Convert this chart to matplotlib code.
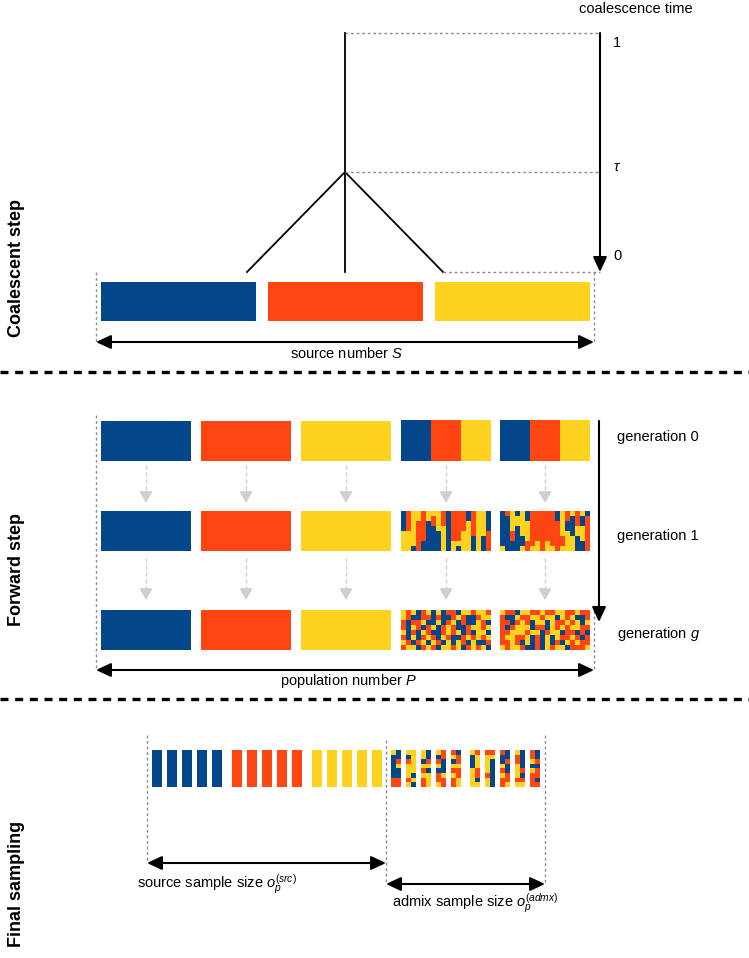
import numpy as np
import matplotlib
matplotlib.use("Agg")
import matplotlib.pyplot as plt
from matplotlib.patches import Rectangle, FancyArrowPatch
from matplotlib.colors import ListedColormap

plt.rcParams['font.family'] = ['Liberation Sans', 'DejaVu Sans']
plt.rcParams['mathtext.fontset'] = 'custom'
plt.rcParams['mathtext.rm'] = 'Liberation Sans'
plt.rcParams['mathtext.it'] = 'Liberation Sans:italic'

# colours of the three sources
src_colors = ["#03468A", "#FF4612", "#FFD220"]
code = {"B": 0, "R": 1, "Y": 2}

section_labels = ["Coalescent step", "Forward step", "Final sampling"]
time_labels = ["1", r"$\tau$", "0"]
gen_labels = ["generation 0", "generation 1", r"generation $g$"]

# admixed population, generation 0: proportions of blue/red/yellow
admix_gen0 = ["BRY", "BRY"]

# admixed populations, generation 1 (columns, top to bottom)
gen1_a = ["BBBBYYYY", "RRRRYYYY", "YYYYYYYB", "YYRRRRRR", "RRRRRRBB", "YYBBBBBB",
          "YRRBBBBB", "YYYYBBBB", "RRRYYYYY", "BBBBBBBB", "RRRRRRYY", "RRRRRRYB",
          "RRRRYYYY", "BBYYYYYY", "RRRRRBBB", "YYYYYYYY", "YYYYYBBB", "BBBBRRRR"]
gen1_b = ["BBBBBBBY", "RBBBBBBB", "YYYYRRBB", "BYYBBBBB", "YYYYYBBY", "BBYYYYRR",
          "RRRRRRRY", "RRRRRRYY", "RRRRRRRR", "RRRRRRYY", "RRRRRRRY", "BBRRRRRR",
          "YYYYYRRY", "RRBBYYYY", "YBBBBYYY", "RRRYYBBB", "YBBYYYBB", "BRRRRRRR"]

# admixed populations, generation g (rows)
geng_a = ["YRYBRYBYBRRBYYRYYR", "YRBBRRBRBBRYRBBRYY", "RBRRYBBYBRYBRBBYRB",
          "RBYRBRYBRYRBBRYYRY", "YBRBYRBBRYRYBRBYYB", "RBYBRYRBYRBBRYRYRY",
          "YRBRYBYRBYBYRBYBBR", "RYYBRYRBYYRYBRYRYB"]
geng_b = ["YRRBYYRRYRRYYRRYRR", "RBBYRRYYRYYBYRYBBR", "RRBRYRBYYBYRRYRYBY",
          "RBRYYYBRRBYRYRYYRR", "RRYYYRYYBRYYBRRBRB", "RYYRRYBRBYBYRRYRBR",
          "RRYRBYBRBYBRBYRYRR", "YRYYRBBRBYRYYBRRRY"]

# final sampling: 5 individuals per source, 10 admixed individuals (rows x 2 cols)
n_src_samples = 5
admix_samples = [
    ["YB", "BB", "BR", "BY", "BB", "BB", "RR", "RR"],
    ["YY", "BY", "RY", "YY", "YY", "YB", "RY", "YB"],
    ["YB", "YB", "BR", "YY", "RB", "YY", "RY", "RY"],
    ["YR", "BR", "RB", "YB", "BB", "RY", "RR", "YR"],
    ["RB", "YR", "BR", "YY", "RR", "YR", "RY", "RY"],
    ["YR", "BY", "BY", "BY", "YR", "YR", "YB", "YY"],
    ["RR", "YY", "YB", "YB", "YB", "RB", "YB", "YB"],
    ["RB", "BB", "BR", "YB", "RB", "YR", "RR", "RY"],
    ["YB", "RB", "RB", "YB", "YR", "YB", "RR", "YY"],
    ["RB", "RB", "YR", "BB", "YR", "RR", "RB", "RR"],
]

cmap = ListedColormap(src_colors)
GRAY = "#8c8c8c"
LIGHT = "#cfcfcf"
FS = 10.5

fig = plt.figure(figsize=(7.49, 9.58), dpi=100)
ax = fig.add_axes([0, 0, 1, 1])
ax.set_xlim(0, 749)
ax.set_ylim(958, 0)
ax.axis("off")


def grid(rows):
    return np.array([[code[c] for c in r] for r in rows])


def mosaic(arr, x0, y0, w, h):
    ax.imshow(arr, cmap=cmap, vmin=0, vmax=2, extent=(x0, x0 + w, y0 + h, y0),
              origin="upper", interpolation="nearest", aspect="auto")


def darrow(x0, y0, x1, y1, style="<|-|>"):
    ax.annotate("", xy=(x1, y1), xytext=(x0, y0),
                arrowprops=dict(arrowstyle=style + ",head_length=0.9,head_width=0.42",
                                color="black", lw=1.5, shrinkA=0, shrinkB=0))


def dotted(xs, ys):
    ax.plot(xs, ys, color=GRAY, lw=1.0, linestyle=(0, (2, 2)))


# ---------------- coalescent step ----------------
bar_x = [101, 268, 435]
for x, c in zip(bar_x, src_colors):
    ax.add_patch(Rectangle((x, 282), 155, 39, color=c, lw=0))

ax.plot([345, 345], [33, 272], color="black", lw=1.3)
ax.plot([247, 345, 443], [272, 172, 272], color="black", lw=1.3)
dotted([345, 600], [33, 33])
dotted([345, 600], [172, 172])
dotted([443, 600], [272, 272])
darrow(600, 33, 600, 272, style="-|>")
ax.text(636, 9, "coalescence time", fontsize=FS, ha="center", va="center")
for lab, y in zip(time_labels, [43, 167, 256]):
    ax.text(613, y, lab, fontsize=FS, ha="left", va="center")

dotted([96, 96], [272, 342])
dotted([594, 594], [272, 342])
darrow(96, 342, 594, 342)
ax.text(347, 353, r"source number $S$", fontsize=FS, ha="center", va="center")

# separators
for y in [372, 699]:
    ax.plot([0, 749], [y, y], color="black", lw=2.4, linestyle=(0, (2.4, 2.0)))

# ---------------- forward step ----------------
blk_x = [101, 201, 301, 401, 500]
row_y = [421, 511, 610]
BW, BH = 90, 40
for y in row_y:
    for x, c in zip(blk_x[:3], src_colors):
        ax.add_patch(Rectangle((x, y), BW, BH, color=c, lw=0))

# generation 0 admixed blocks
for x, pat in zip(blk_x[3:], admix_gen0):
    mosaic(grid([pat]), x, row_y[0], BW, BH)
mosaic(grid(gen1_a).T, blk_x[3], row_y[1], BW, BH)
mosaic(grid(gen1_b).T, blk_x[4], row_y[1], BW, BH)
mosaic(grid(geng_a), blk_x[3], row_y[2], BW, BH)
mosaic(grid(geng_b), blk_x[4], row_y[2], BW, BH)

# gray transition arrows
for x in blk_x:
    xc = x + BW / 2
    for y0, y1 in [(465, 503), (558, 600)]:
        ax.plot([xc, xc], [y0, y1 - 9], color=LIGHT, lw=1.0, linestyle=(0, (3, 2)))
        ax.add_patch(FancyArrowPatch((xc, y1 - 11), (xc, y1),
                                     arrowstyle="-|>,head_length=0.7,head_width=0.4",
                                     mutation_scale=10, color=LIGHT, lw=1.0,
                                     shrinkA=0, shrinkB=0))

darrow(599, 421, 599, 622, style="-|>")
for lab, y in zip(gen_labels, [437, 536, 634]):
    ax.text(617, y, lab, fontsize=FS, ha="left", va="center")

dotted([96, 96], [415, 670])
dotted([594, 594], [605, 670])
darrow(96, 670, 594, 670)
ax.text(348, 681, r"population number $P$", fontsize=FS, ha="center", va="center")

# ---------------- final sampling ----------------
SB_W, SB_Y, SB_H = 10, 750, 37
group_x = [152, 232, 312]
for gx, c in zip(group_x, src_colors):
    for i in range(n_src_samples):
        ax.add_patch(Rectangle((gx + 15 * i, SB_Y), SB_W, SB_H, color=c, lw=0))

adm_x = [391, 406, 421, 436, 451, 470, 485, 500, 515, 530]
for x, rows in zip(adm_x, admix_samples):
    mosaic(grid(rows), x, SB_Y, SB_W, SB_H)

dotted([147, 147], [735, 863])
dotted([386, 386], [740, 884])
dotted([545, 545], [735, 884])
darrow(147, 863, 386, 863)
darrow(386, 884, 545, 884)
ax.text(137, 884, r"source sample size $o_p^{(src)}$", fontsize=FS, ha="left", va="center")
ax.text(392, 903, r"admix sample size $o_p^{(admx)}$", fontsize=FS, ha="left", va="center")

# section labels
for lab, y in zip(section_labels, [268, 570, 884]):
    ax.text(17, y, lab, fontsize=13, fontweight="bold", rotation=90,
            ha="center", va="center")

fig.savefig("out.png", dpi=100)
